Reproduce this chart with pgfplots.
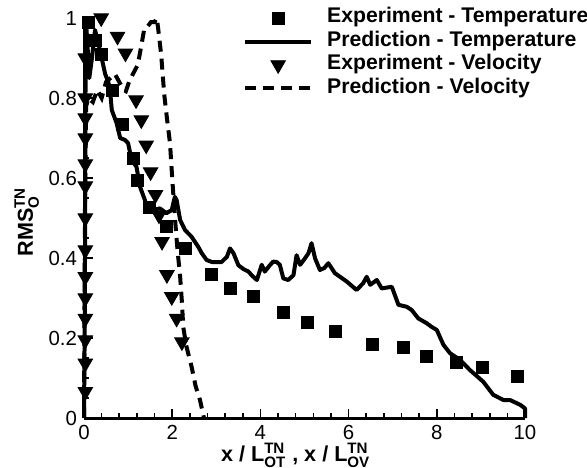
\documentclass[border=0pt]{standalone}
\usepackage{fontspec}
\setmainfont{Liberation Sans}
\usepackage{amsmath}
\usepackage{pgfplots}
\pgfplotsset{compat=1.18}
\newcommand{\supsub}[2]{\ensuremath{^{\text{\bfseries #1}}_{\text{\bfseries #2}}}}
\begin{document}
\begin{tikzpicture}
\begin{axis}[
  scale only axis, width=220.5pt, height=200pt,
  xmin=0, xmax=10, ymin=0, ymax=1,
  axis lines*=left,
  axis line style={line width=1.5pt},
  tick align=inside,
  xtick={0,2,4,6,8,10}, ytick={0,0.2,0.4,0.6,0.8,1},
  minor x tick num=4, minor y tick num=3,
  major tick length=4.5pt, minor tick length=2.3pt,
  every tick/.style={black, line width=0.8pt},
  tick label style={font=\fontsize{10.2}{12}\selectfont},
  /pgf/number format/assume math mode=true,
  xlabel={\bfseries x / L\supsub{TN}{OT} , x / L\supsub{TN}{OV}},
  ylabel={\bfseries RMS\supsub{TN}{O}},
  label style={font=\fontsize{10.8}{13}\selectfont},
  xlabel style={at={(axis description cs:0.48,0)}, anchor=base, yshift=-21.5pt},
  ylabel style={at={(rel axis cs:-0.116,0.49)}, anchor=base},
  clip=false,
  legend style={draw=none, fill=none, at={(rel axis cs:0.36,1.03)}, anchor=north west,
    font=\fontsize{10.6}{12}\selectfont\bfseries, row sep=0pt, column sep=5pt, inner sep=0pt,
    nodes={inner ysep=0pt, text height=8.2pt, text depth=3.5pt}},
  legend cell align=left,
  legend image code/.code={\draw[mark repeat=2,mark phase=2,#1] plot coordinates {(0pt,0pt)(16.5pt,0pt)(33pt,0pt)};},
]
\addplot[only marks, mark=square*, mark size=3pt, black] coordinates {
(0.09,0.99)(0.25,0.945)(0.40,0.91)(0.64,0.82)(0.87,0.733)(1.11,0.65)(1.22,0.595)(1.48,0.526)
(1.87,0.478)(2.31,0.424)(2.90,0.36)(3.31,0.325)(3.85,0.303)(4.52,0.263)(5.07,0.24)(5.70,0.216)
(6.54,0.185)(7.24,0.177)(7.77,0.153)(8.45,0.138)(9.03,0.126)(9.83,0.105)
};
\addlegendentry{Experiment - Temperature}
\addplot[black, line width=2pt, line join=round] coordinates {
(0,0)(0.02,0.3)(0.03,0.7)(0.04,1.0)(0.08,0.93)(0.12,0.85)(0.18,0.9)(0.25,0.97)(0.32,0.94)(0.4,0.9)
(0.48,0.86)(0.55,0.84)(0.59,0.82)(0.63,0.77)(0.74,0.737)(0.82,0.70)(0.93,0.695)(1.0,0.687)(1.08,0.645)
(1.19,0.628)(1.27,0.578)(1.38,0.545)(1.42,0.528)(1.57,0.52)(1.72,0.524)(1.87,0.512)(1.99,0.52)(2.06,0.553)
(2.1,0.545)(2.18,0.495)(2.29,0.47)(2.44,0.453)(2.59,0.428)(2.67,0.412)(2.78,0.395)(2.9,0.39)(3.0,0.39)
(3.12,0.39)(3.24,0.403)(3.31,0.424)(3.39,0.412)(3.5,0.382)(3.62,0.372)(3.73,0.366)(3.8,0.357)(3.92,0.345)
(4.03,0.383)(4.10,0.366)(4.2,0.38)(4.29,0.391)(4.37,0.39)(4.44,0.383)(4.52,0.349)(4.63,0.345)(4.75,0.357)
(4.82,0.407)(4.90,0.383)(5.01,0.399)(5.09,0.412)(5.16,0.437)(5.24,0.399)(5.35,0.37)(5.45,0.375)(5.54,0.387)
(5.69,0.362)(5.96,0.341)(6.18,0.32)(6.33,0.337)(6.41,0.353)(6.49,0.333)(6.64,0.345)(6.75,0.324)(6.98,0.328)
(7.13,0.283)(7.32,0.278)(7.43,0.27)(7.58,0.249)(7.77,0.237)(7.88,0.228)(8.0,0.22)(8.15,0.183)(8.30,0.162)
(8.53,0.145)(8.75,0.12)(9.05,0.091)(9.28,0.058)(9.51,0.045)(9.66,0.045)(9.89,0.033)(10.0,0.024)(10.0,0.0)
};
\addlegendentry{Prediction - Temperature}
\addplot[only marks, mark=triangle*, mark size=4.2pt, mark options={rotate=180}, black] coordinates {
(0.03,0.066)(0.03,0.137)(0.03,0.195)(0.03,0.249)(0.03,0.30)(0.03,0.353)(0.03,0.42)(0.03,0.50)
(0.03,0.58)(0.03,0.635)(0.03,0.70)(0.03,0.75)(0.03,0.80)(0.03,0.90)
(0.39,1.0)(0.76,0.954)(0.94,0.912)(1.18,0.795)(1.30,0.745)(1.41,0.682)(1.51,0.615)(1.62,0.558)
(1.70,0.507)(1.77,0.441)(1.88,0.358)(1.99,0.303)(2.10,0.249)(2.22,0.19)
};
\addlegendentry{Experiment - Velocity}
\addplot[black, line width=2pt, dash pattern=on 5.5pt off 3.5pt] coordinates {
(0,0)(0.02,0.5)(0.05,0.78)(0.1,0.80)(0.2,0.79)(0.3,0.82)(0.4,0.80)(0.5,0.84)(0.6,0.85)(0.7,0.86)
(0.8,0.84)(0.9,0.82)(0.95,0.817)(1.02,0.84)(1.10,0.858)(1.22,0.883)(1.29,0.925)(1.37,0.975)(1.45,0.98)
(1.52,0.99)(1.6,0.99)(1.65,1.0)(1.68,0.975)(1.75,0.908)(1.82,0.808)(1.88,0.75)(1.95,0.687)(2.0,0.6)
(2.06,0.503)(2.12,0.42)(2.18,0.353)(2.22,0.29)(2.25,0.228)(2.32,0.18)(2.44,0.128)(2.53,0.08)(2.63,0.045)
(2.7,0.01)(2.72,0)
};
\addlegendentry{Prediction - Velocity}
\coordinate (bbl) at (axis cs:-1.905,-0.125);
\coordinate (btr) at (axis cs:11.406,1.045);
\end{axis}
\pgfresetboundingbox
\path[use as bounding box] (bbl) rectangle (btr);
\end{tikzpicture}
\end{document}
